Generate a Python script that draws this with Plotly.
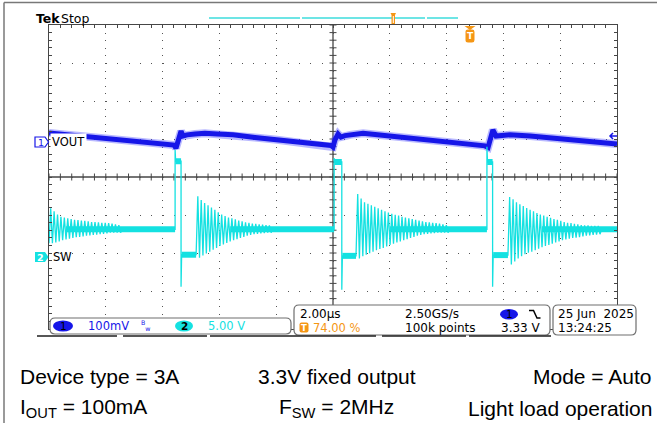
import numpy as np
import plotly.graph_objects as go

W, H = 657, 423
def px(x): return x / W
def py(y): return 1 - y / H

# ---------------- data ----------------
# time axis in microseconds, trigger at t = 0 (74 % of record), 2 us/div
T_START, T_END = -14.8, 5.2

# CH1  VOUT  (V), 100 mV/div
vout_t = [-14.80, -14.06, -13.00, -11.84, -10.64, -10.40, -10.33, -10.26, -10.15, -10.08,
          -9.94, -9.66, -9.31, -8.88, -8.32, -7.55, -6.77, -5.96, -5.26, -4.87,
          -4.80, -4.73, -4.62, -4.52, -4.38, -4.20, -3.74, -3.32, -2.79, -2.09,
          -1.38, -0.68, 0.02, 0.55, 0.66, 0.73, 0.83, 0.94, 1.15, 1.43,
          2.14, 3.30, 4.50, 5.20]
vout_v = [3.338, 3.333, 3.326, 3.318, 3.310, 3.306, 3.298, 3.320, 3.343, 3.330,
          3.333, 3.335, 3.337, 3.335, 3.333, 3.326, 3.320, 3.313, 3.308, 3.305,
          3.301, 3.320, 3.335, 3.327, 3.331, 3.333, 3.337, 3.334, 3.330, 3.323,
          3.318, 3.314, 3.309, 3.304, 3.300, 3.322, 3.346, 3.330, 3.331, 3.333,
          3.330, 3.321, 3.313, 3.309]

# CH2  SW  (V), 5 V/div
sw_base = 3.65
pulse_rise_t = [-10.36, -4.76, 0.62]
pulse_fall_t = [-10.15, -4.49, 0.82]
ring_start_t = [-9.62, -3.99, 1.36]
sw_rise_peak = [14.1, 13.0, 14.5]
sw_high = [12.6, 12.5, 12.5]
sw_fall_peak = [-3.9, -4.3, -3.9]
sw_low = [0.3, 0.15, 0.25]
ring_period = 0.12

ring0_hi = [6.4, 6.0, 5.6, 5.3, 5.2, 5.1, 5.0, 4.9, 4.85, 4.8, 4.75, 4.7, 4.6, 4.6, 4.55,
            4.5, 4.5, 4.45, 4.4, 4.3, 4.2]
ring0_lo = [1.8, 1.9, 2.05, 2.2, 2.3, 2.4, 2.5, 2.6, 2.65, 2.7, 2.8, 2.85, 2.9, 2.95, 3.0,
            3.05, 3.1, 3.2, 3.2, 3.2, 3.2]
ring1_hi = [8.0, 7.5, 7.1, 6.8, 6.5, 6.2, 5.9, 5.6, 5.4, 5.2, 5.1, 4.95, 4.8, 4.7, 4.55,
            4.5, 4.4, 4.35, 4.3, 4.25, 4.2, 4.15]
ring1_lo = [-0.1, 0.2, 0.45, 0.7, 0.95, 1.2, 1.45, 1.65, 1.85, 2.05, 2.2, 2.35, 2.5, 2.65,
            2.8, 2.9, 3.0, 3.05, 3.1, 3.15, 3.2, 3.2]
ring2_hi = [8.3, 7.7, 7.2, 7.0, 6.8, 6.6, 6.4, 6.2, 6.0, 5.85, 5.7, 5.55, 5.45, 5.3, 5.2,
            5.1, 5.0, 4.9, 4.8, 4.7, 4.6, 4.55, 4.5, 4.45, 4.4, 4.3, 4.2]
ring2_lo = [-0.2, 0.1, 0.3, 0.5, 0.7, 0.9, 1.05, 1.2, 1.4, 1.6, 1.75, 1.9, 2.05, 2.2, 2.35,
            2.5, 2.65, 2.8, 2.9, 3.0, 3.05, 3.1, 3.15, 3.2, 3.2, 3.2, 3.2]
ring3_hi = [7.9, 7.6, 7.2, 6.95, 6.7, 6.45, 6.2, 6.0, 5.8, 5.6, 5.45, 5.3, 5.15, 5.0, 4.9,
            4.75, 4.6, 4.5, 4.45, 4.35, 4.3, 4.2, 4.15, 4.15, 4.1, 4.1, 4.1]
ring3_lo = [-1.0, -0.6, -0.2, 0.1, 0.35, 0.55, 0.7, 0.9, 1.1, 1.3, 1.45, 1.6, 1.75, 1.9,
            2.05, 2.2, 2.3, 2.4, 2.5, 2.55, 2.6, 2.7, 2.8, 2.85, 2.9, 2.95, 3.0]
ring_hi = [ring1_hi, ring2_hi, ring3_hi]
ring_lo = [ring1_lo, ring2_lo, ring3_lo]

# scope scales (vertical position of channel markers)
CH1_RANGE = [2.8221, 3.6221]     # 100 mV/div, 8 div
CH2_RANGE = [-9.474, 30.526]     # 5 V/div, 8 div

# ---------------- styling ----------------
BLUE = "rgb(22,22,232)"
CYAN = "rgb(20,225,225)"
ORANGE = "rgb(245,150,20)"
GRID = "rgb(85,85,85)"
FRAME = "rgb(70,70,70)"
FONT = "Liberation Sans, Arial, sans-serif"
TEK = "DejaVu Sans, sans-serif"

# ---------------- build SW path ----------------
half = ring_period / 2.0

def ring_pts(t0, his, los):
    ts, vs = [], []
    t = t0
    for h, l in zip(his, los):
        ts += [t + half, t + 2 * half]
        vs += [h, l]
        t += ring_period
    return ts, vs, t

thin_t, thin_v = [T_START], [ring0_lo[0]]
ts, vs, tend = ring_pts(T_START, ring0_hi, ring0_lo)
thin_t += ts; thin_v += vs
for i in range(3):
    r, f, rs = pulse_rise_t[i], pulse_fall_t[i], ring_start_t[i]
    thin_t += [tend + half, r, r, r + 0.02, f, f, f + 0.02, rs]
    thin_v += [sw_base, sw_base, sw_rise_peak[i], sw_high[i], sw_high[i],
               sw_fall_peak[i], sw_low[i], sw_low[i]]
    ts, vs, tend = ring_pts(rs, ring_hi[i], ring_lo[i])
    thin_t += ts; thin_v += vs
thin_t += [tend + half, T_END]
thin_v += [sw_base, sw_base]

thick_t, thick_v = [], []
starts = [T_START + 0.6] + [rs + 1.2 for rs in ring_start_t]
ends = pulse_rise_t + [T_END]
for a, b in zip(starts, ends):
    thick_t += [a, b, None]; thick_v += [sw_base, sw_base, None]
for i in range(3):
    thick_t += [pulse_rise_t[i] + 0.01, pulse_fall_t[i], None,
                pulse_fall_t[i] + 0.02, ring_start_t[i], None]
    thick_v += [sw_high[i], sw_high[i], None, sw_low[i], sw_low[i], None]

# ---------------- figure ----------------
fig = go.Figure()

center_v = (CH1_RANGE[0] + CH1_RANGE[1]) / 2
center_t = (T_START + T_END) / 2
# center-line tick marks
fig.add_trace(go.Scatter(x=np.arange(T_START, T_END + 1e-6, 0.4), y=[center_v] * 51,
                         mode="markers", hoverinfo="skip",
                         marker=dict(symbol="line-ns", size=5,
                                     line=dict(width=1, color=FRAME))))
fig.add_trace(go.Scatter(x=[center_t] * 41,
                         y=CH1_RANGE[0] + 0.02 * np.arange(41),
                         mode="markers", hoverinfo="skip",
                         marker=dict(symbol="line-ew", size=5,
                                     line=dict(width=1, color=FRAME))))

# VOUT
fig.add_trace(go.Scatter(x=vout_t, y=vout_v, mode="lines", hoverinfo="skip",
                         line=dict(color="rgba(80,80,255,0.4)", width=8)))
fig.add_trace(go.Scatter(x=vout_t, y=vout_v, mode="lines", hoverinfo="skip",
                         line=dict(color=BLUE, width=5)))
# SW
fig.add_trace(go.Scatter(x=thick_t, y=thick_v, mode="lines", hoverinfo="skip",
                         yaxis="y2", connectgaps=False,
                         line=dict(color=CYAN, width=6)))
fig.add_trace(go.Scatter(x=thin_t, y=thin_v, mode="lines", hoverinfo="skip",
                         yaxis="y2", line=dict(color=CYAN, width=1.3)))

xdom = [px(49), px(617)]
ydom = [py(329), py(25)]
fig.update_layout(
    width=W, height=H, autosize=False,
    margin=dict(l=0, r=0, t=0, b=0, pad=0),
    paper_bgcolor="white", plot_bgcolor="rgba(0,0,0,0)",
    showlegend=False,
    xaxis=dict(domain=xdom, range=[T_START, T_END], tick0=T_START, dtick=2,
               showgrid=True, gridcolor=GRID, gridwidth=1, griddash="1px,6.6px",
               zeroline=False, showline=True, linecolor=FRAME, linewidth=1,
               mirror="allticks", ticks="inside", ticklen=3, tickcolor=FRAME,
               showticklabels=False, fixedrange=True,
               minor=dict(dtick=0.4, tick0=T_START, ticks="inside", ticklen=3,
                          tickcolor=FRAME, showgrid=False)),
    yaxis=dict(domain=ydom, range=CH1_RANGE, tick0=CH1_RANGE[0], dtick=0.1,
               showgrid=True, gridcolor=GRID, gridwidth=1, griddash="1px,10.36px",
               zeroline=False, showline=True, linecolor=FRAME, linewidth=1,
               mirror="allticks", ticks="inside", ticklen=3, tickcolor=FRAME,
               showticklabels=False, fixedrange=True,
               minor=dict(dtick=0.02, tick0=CH1_RANGE[0], ticks="inside", ticklen=3,
                          tickcolor=FRAME, showgrid=False)),
    yaxis2=dict(overlaying="y", range=CH2_RANGE, visible=False, fixedrange=True),
)

shapes = []
# center crosshair
shapes.append(dict(type="line", xref="x domain", yref="y", x0=0, x1=1,
                   y0=center_v, y1=center_v, line=dict(color=FRAME, width=1.3),
                   layer="below"))
shapes.append(dict(type="line", xref="x", yref="y domain", x0=center_t, x1=center_t,
                   y0=0, y1=1, line=dict(color=FRAME, width=1.3), layer="below"))

def P(x, y):
    return f"{px(x):.5f},{py(y):.5f}"

def rrect(x0, y0, x1, y1, r):
    return (f"M{P(x0 + r, y0)} L{P(x1 - r, y0)} Q{P(x1, y0)} {P(x1, y0 + r)} "
            f"L{P(x1, y1 - r)} Q{P(x1, y1)} {P(x1 - r, y1)} L{P(x0 + r, y1)} "
            f"Q{P(x0, y1)} {P(x0, y1 - r)} L{P(x0, y0 + r)} Q{P(x0, y0)} {P(x0 + r, y0)} Z")

def path(d, color=None, fill=None, width=1.2):
    shapes.append(dict(type="path", xref="paper", yref="paper", path=d,
                       fillcolor=fill if fill else "rgba(0,0,0,0)",
                       line=dict(color=color if color else "rgba(0,0,0,0)", width=width)))

def seg(x0, y0, x1, y1, color, width=1.2):
    shapes.append(dict(type="line", xref="paper", yref="paper",
                       x0=px(x0), y0=py(y0), x1=px(x1), y1=py(y1),
                       line=dict(color=color, width=width)))

def ell(x0, y0, x1, y1, fill):
    shapes.append(dict(type="circle", xref="paper", yref="paper",
                       x0=px(x0), y0=py(y1), x1=px(x1), y1=py(y0),
                       fillcolor=fill, line=dict(color=fill, width=0)))

# outer frame of screenshot
seg(4, 2.5, 657, 2.5, "rgb(120,120,120)", 1.5)
seg(4, 2.5, 4, 423, "rgb(120,120,120)", 1.5)
# record bar on top
seg(209, 18, 300, 18, "rgb(60,220,220)", 1.5)
seg(302, 18, 425, 18, "rgb(60,220,220)", 1.5)
seg(427, 18, 458, 18, "rgb(60,220,220)", 1.5)
path(f"M{P(390.5,13)} L{P(396,13)} L{P(395,15)} L{P(395,24)} L{P(391.5,24)} L{P(391.5,15)} Z",
     fill=ORANGE)
seg(393.3, 16, 393.3, 23, "white", 1)
# trigger position marker
path(f"M{P(464.5,26)} L{P(475.5,26)} L{P(470,30)} Z", fill=ORANGE)
path(rrect(465.5, 29.5, 474.5, 42.5, 2.5), fill=ORANGE)
# trigger level arrow (right)
path(f"M{P(617,136)} L{P(610,136)} M{P(613,133)} L{P(610,136)} L{P(613,139)}",
     color=BLUE, width=1.5)
# channel markers on left
path(f"M{P(35,137)} L{P(45,137)} L{P(48.5,142)} L{P(45,147)} L{P(35,147)} Z",
     color=BLUE, fill="white", width=1.2)
path(f"M{P(35,252)} L{P(45,252)} L{P(48.5,257)} L{P(45,262)} L{P(35,262)} Z",
     fill=CYAN)
# readout boxes
path(rrect(50, 318, 291, 334, 5), color="rgb(110,110,110)", fill="white")
path(rrect(294, 305, 550, 335, 5), color="rgb(110,110,110)", fill="white")
path(rrect(553, 305, 636, 335, 5), color="rgb(110,110,110)", fill="white")
for a, b in [(37, 117), (123, 207), (210, 376), (382, 466), (469, 551)]:
    seg(a, 336, b, 336, "rgb(30,30,30)", 1.5)
ell(53, 320.5, 73, 331.5, BLUE)
ell(175, 320.5, 193, 331.5, CYAN)
ell(500, 309, 518, 319.5, BLUE)
path(rrect(299.5, 322.5, 308.5, 332.5, 2), fill=ORANGE)
path(f"M{P(529,310.5)} L{P(533.5,310.5)} L{P(537,318)} L{P(540.5,318)}",
     color="black", width=1.5)
fig.update_layout(shapes=shapes)

anns = []
def ann(text, x, y, size, color="black", anchor="left", bg=None, bold=False, family=TEK):
    d = dict(text=f"<b>{text}</b>" if bold else text, x=px(x), y=py(y),
             xref="paper", yref="paper", showarrow=False, xanchor=anchor,
             yanchor="middle", font=dict(family=family, size=size, color=color))
    if bg:
        d.update(bgcolor=bg, borderpad=1)
    anns.append(d)

ann("Tek", 33.5, 19, 12.5, bold=True)
ann("Stop", 58.5, 19, 12.5)
ann("T", 470, 36.5, 9, "white", "center", bold=True)
ann("VOUT", 50, 142, 11.5, bg="white")
ann("SW", 51, 257, 11.5)
ann("1", 40.5, 142, 9.5, BLUE, "center")
ann("2", 40.5, 257, 9.5, "white", "center", bold=True)
ann("1", 63, 326, 10.5, "black", "center")
ann("100mV", 86, 326, 11.5, BLUE)
ann("<sup>B</sup><sub>w</sub>", 145.5, 325.5, 9, BLUE, "center")
ann("2", 184, 326, 10.5, "black", "center", bold=True)
ann("5.00 V", 206, 326, 11.5, CYAN)
ann("2.00µs", 298, 314, 12)
ann("T", 304, 327.5, 8.5, "white", "center", bold=True)
ann("74.00 %", 311, 327.5, 11.5, ORANGE)
ann("2.50GS/s", 403, 314, 12)
ann("100k points", 403, 327.5, 12)
ann("1", 509, 314, 10.5, "black", "center")
ann("3.33 V", 543, 327.5, 12, "black", "right")
ann("25 Jun  2025", 556, 314, 12)
ann("13:24:25", 556, 327.5, 12)

ann("Device type = 3A", 18, 376, 21, family=FONT)
ann("3.3V fixed output", 336.5, 376, 21, anchor="center", family=FONT)
ann("Mode = Auto", 654, 376, 21, anchor="right", family=FONT)
ann("I<sub>OUT</sub> = 100mA", 18, 408, 21, family=FONT)
ann("F<sub>SW</sub> = 2MHz", 336.5, 408, 21, anchor="center", family=FONT)
ann("Light load operation", 654, 408, 21, anchor="right", family=FONT)
fig.update_layout(annotations=anns)

fig.write_html("out.html", config={"displayModeBar": False},
               post_script="document.body.style.margin='0';document.body.style.overflow='hidden';")
